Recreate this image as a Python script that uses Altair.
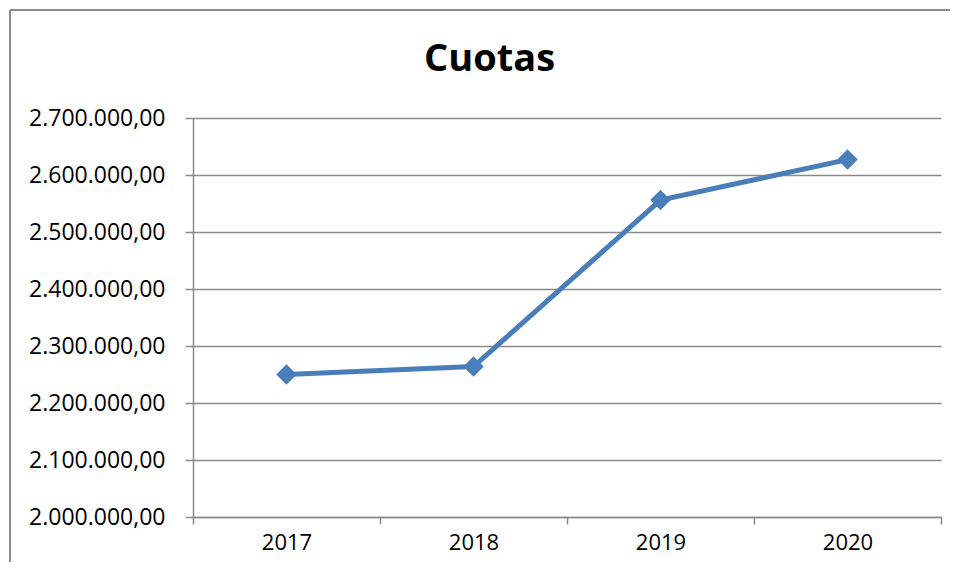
import altair as alt
import pandas as pd

years = ["2017", "2018", "2019", "2020"]
cuotas = [2250000, 2264000, 2556000, 2627000]
y_ticks = [2000000, 2100000, 2200000, 2300000, 2400000, 2500000, 2600000, 2700000]

df = pd.DataFrame({"year": years, "value": cuotas})

W, H = 748, 399
PAD = {"left": 185, "top": 110, "right": 9, "bottom": 45}
BLUE = "#4A7EBB"
GRID = "#8A8A8A"
FONT = "Open Sans"

x_enc = alt.X(
    "year:N",
    sort=years,
    scale=alt.Scale(paddingInner=0, paddingOuter=0),
    axis=alt.Axis(
        title=None, labelAngle=0, tickBand="extent", tickSize=7, tickColor=GRID,
        tickWidth=1.5, domainColor=GRID, domainWidth=1.5, labelFont=FONT,
        labelFontSize=22, labelColor="#000000", labelPadding=8, grid=False,
    ),
)
y_enc = alt.Y(
    "value:Q",
    scale=alt.Scale(domain=[2000000, 2700000], nice=False, zero=False),
    axis=alt.Axis(
        title=None, values=y_ticks, format=",.2f", tickSize=8, tickColor=GRID,
        tickWidth=1.5, domainColor=GRID, domainWidth=1.5, grid=True,
        gridColor=GRID, gridWidth=1.5, labelFont=FONT, labelFontSize=23,
        labelColor="#000000", labelPadding=20,
    ),
)

line = alt.Chart(df).mark_line(color=BLUE, strokeWidth=5).encode(x=x_enc, y=y_enc)
points = alt.Chart(df).mark_point(
    shape="diamond", filled=True, color=BLUE, size=420, opacity=1
).encode(x=alt.X("year:N", sort=years), y="value:Q")

# outer chart-area frame (left and top edges visible in the reference)
border_left = alt.Chart(df).mark_rule(color=GRID, strokeWidth=2).encode(
    x=alt.value(-183), y=alt.value(-108), y2=alt.value(H + 70)
)
border_top = alt.Chart(df).mark_rule(color=GRID, strokeWidth=2).encode(
    x=alt.value(-183), x2=alt.value(W + 28), y=alt.value(-108)
)

chart = (
    alt.layer(border_left, border_top, line, points)
    .properties(
        width=W,
        height=H,
        padding=PAD,
        autosize=alt.AutoSizeParams(type="none"),
        title=alt.TitleParams(
            "Cuotas", font=FONT, fontSize=38, fontWeight="bold", color="#000000",
            anchor="middle", frame="bounds", offset=0, dy=70,
        ),
    )
    .configure(locale={"number": {"decimal": ",", "thousands": ".", "grouping": [3], "currency": ["", " €"]}})
    .configure_view(stroke=None)
)

chart.save("out.html", embed_options={"renderer": "svg", "actions": False})
